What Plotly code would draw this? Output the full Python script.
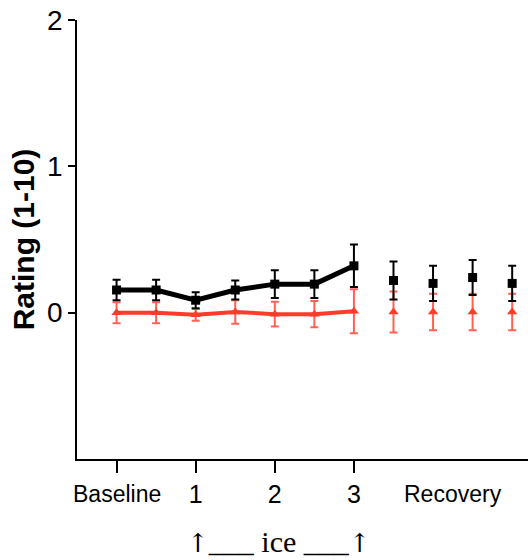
import plotly.graph_objects as go

# Data
idx = list(range(11))
black = [0.155, 0.155, 0.085, 0.155, 0.195, 0.195, 0.32, 0.22, 0.20, 0.24, 0.20]
black_err = [0.07, 0.07, 0.055, 0.065, 0.095, 0.095, 0.145, 0.13, 0.12, 0.12, 0.12]
red = [0.0, 0.0, -0.015, 0.005, -0.01, -0.01, 0.01, 0.005, 0.005, 0.005, 0.005]
red_err = [0.072, 0.072, 0.04, 0.08, 0.085, 0.09, 0.15, 0.14, 0.125, 0.125, 0.125]
tick_vals = [0, 2, 4, 6]
tick_text = ["", "1", "2", "3"]
word_labels = ["Baseline", "Recovery"]
word_pos = [0, 8.5]
n_line = 7  # first 7 points connected

BLACK = "#000000"
RED = "#ff3b2a"
RED_ERR = "rgba(255,59,42,0.8)"

fig = go.Figure()

def add_series(y, err, color, errcolor, symbol, msize, lw):
    fig.add_trace(go.Scatter(
        x=idx[:n_line], y=y[:n_line], mode="lines+markers",
        line=dict(color=color, width=lw),
        marker=dict(symbol=symbol, size=msize, color=color),
        error_y=dict(type="data", array=err[:n_line], color=errcolor, thickness=2, width=4),
        showlegend=False))
    fig.add_trace(go.Scatter(
        x=idx[n_line:], y=y[n_line:], mode="markers",
        marker=dict(symbol=symbol, size=msize, color=color),
        error_y=dict(type="data", array=err[n_line:], color=errcolor, thickness=2, width=4),
        showlegend=False))

add_series(red, red_err, RED, RED_ERR, "triangle-up", 9, 4)
add_series(black, black_err, BLACK, BLACK, "square", 9, 5)

annotations = [
    dict(x=xp, y=0, xref="x", yref="paper", yshift=-35,
         text=t, showarrow=False,
         font=dict(size=23, family="Liberation Sans, Arial, sans-serif"),
         xanchor="center", yanchor="middle")
    for t, xp in zip(word_labels, word_pos)
]
arrow = '<span style="font-family:DejaVu Serif;font-size:26px">↑</span>'
annotations.append(
    dict(x=4.1, y=0, xref="x", yref="paper", yshift=-82,
         text=arrow + "___ ice ___" + arrow, showarrow=False,
         font=dict(size=30, family="Liberation Serif, Times New Roman, serif"),
         xanchor="center", yanchor="middle"))

fig.update_layout(
    width=528, height=560,
    margin=dict(l=77, r=0, t=20, b=101),
    plot_bgcolor="white", paper_bgcolor="white",
    font=dict(family="Liberation Sans, Arial, sans-serif", color="black"),
    xaxis=dict(
        range=[-1, 10.4], showgrid=False, zeroline=False,
        showline=True, linecolor="black", linewidth=2,
        tickmode="array", tickvals=tick_vals, ticktext=tick_text,
        ticks="outside", ticklen=12, tickwidth=1.5, tickcolor="black",
        tickfont=dict(size=25),
    ),
    yaxis=dict(
        range=[-1, 2], showgrid=False, zeroline=False,
        showline=True, linecolor="black", linewidth=1.5,
        tickmode="array", tickvals=[0, 1, 2], ticktext=["0", "1", "2"],
        ticks="outside", ticklen=7, tickwidth=1.5, tickcolor="black",
        tickfont=dict(size=28),
        title=dict(text="<b>Rating (1-10)</b>", font=dict(size=30), standoff=4),
    ),
    annotations=annotations,
)

fig.write_html("out.html")
